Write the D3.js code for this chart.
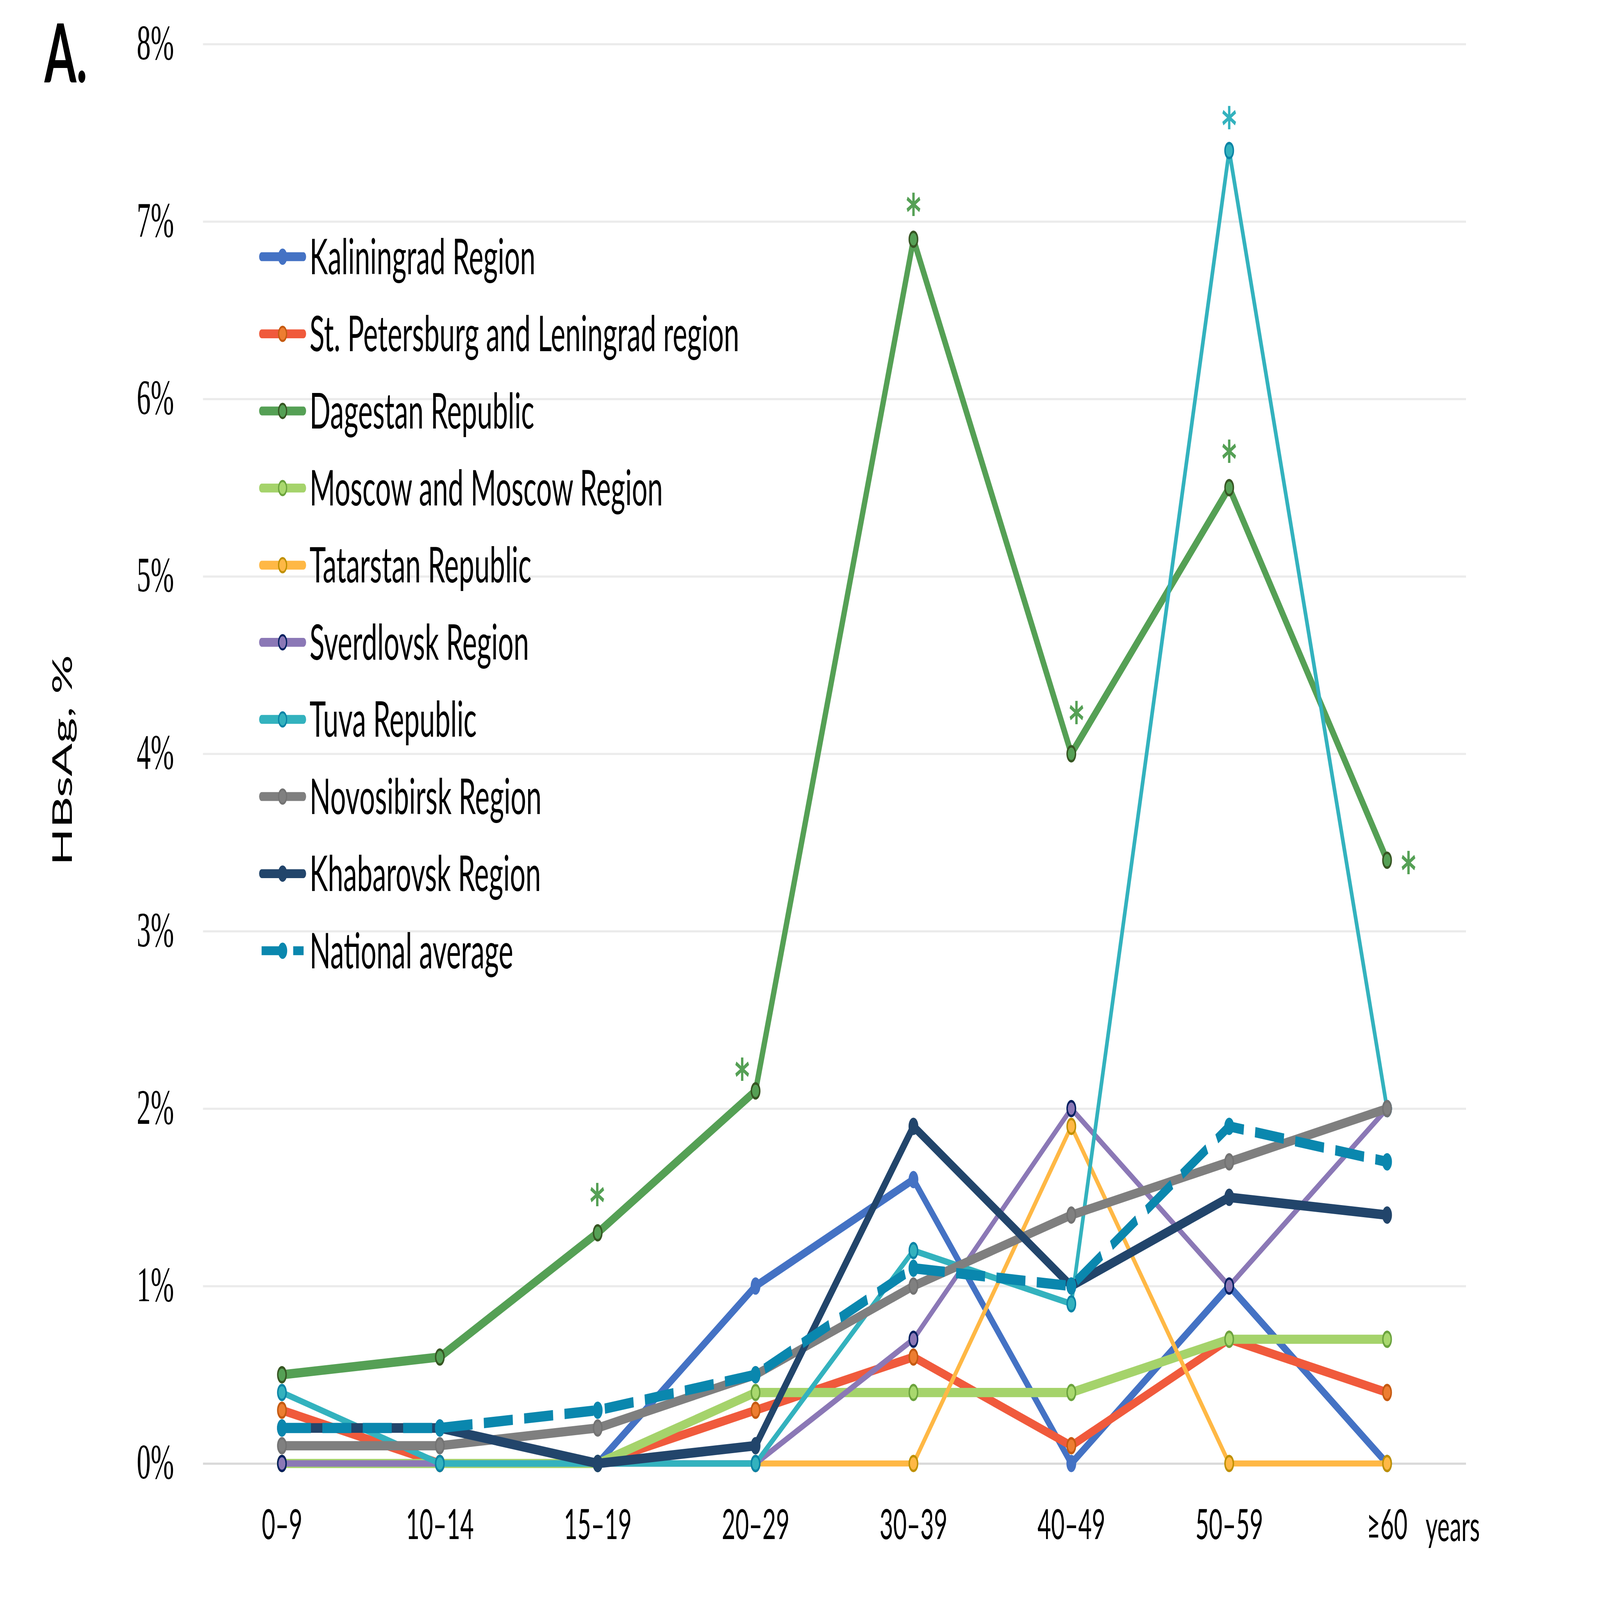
<!DOCTYPE html>
<html><head><meta charset="utf-8">
<script src="https://cdn.jsdelivr.net/npm/d3@7"></script>
<style>html,body{margin:0;padding:0;background:#fff;overflow:hidden;width:100%;height:100%} svg{display:block;width:100vw;height:100vh}</style>
</head><body>
<svg id="chart" viewBox="0 0 8000 4500" preserveAspectRatio="none"></svg>
<script>
// ---------- DATA ----------
const categories = ["0–9","10–14","15–19","20–29","30–39","40–49","50–59","≥60"];
const seriesNames = ["Kaliningrad Region","St. Petersburg and Leningrad region","Dagestan Republic","Moscow and Moscow Region","Tatarstan Republic","Sverdlovsk Region","Tuva Republic","Novosibirsk Region","Khabarovsk Region","National average"];
const kaliningrad = [0, 0, 0, 1.0, 1.6, 0, 1.0, 0];
const stPetersburg = [0.3, 0, 0, 0.3, 0.6, 0.1, 0.7, 0.4];
const dagestan = [0.5, 0.6, 1.3, 2.1, 6.9, 4.0, 5.5, 3.4];
const moscow = [0, 0, 0, 0.4, 0.4, 0.4, 0.7, 0.7];
const tatarstan = [0, 0, 0, 0, 0, 1.9, 0, 0];
const sverdlovsk = [0, 0, 0, 0, 0.7, 2.0, 1.0, 2.0];
const tuva = [0.4, 0, 0, 0, 1.2, 0.9, 7.4, 2.0];
const novosibirsk = [0.1, 0.1, 0.2, 0.5, 1.0, 1.4, 1.7, 2.0];
const khabarovsk = [0.2, 0.2, 0, 0.1, 1.9, 1.0, 1.5, 1.4];
const nationalAverage = [0.2, 0.2, 0.3, 0.5, 1.1, 1.0, 1.9, 1.7];
const yTicks = [0, 1, 2, 3, 4, 5, 6, 7, 8];
const dagestanStarCats = ["15–19","20–29","30–39","40–49","50–59","≥60"];
const tuvaStarCats = ["50–59"];
const yTitle = "HBsAg, %";
const xUnit = "years";
const panelLabel = "A.";

const seriesValues = [kaliningrad, stPetersburg, dagestan, moscow, tatarstan, sverdlovsk, tuva, novosibirsk, khabarovsk, nationalAverage];

// ---------- STYLES ----------
const styles = [
  {line:"#4472C4", fill:"#4472C4", stroke:"#4472C4", w:24},
  {line:"#F05A3C", fill:"#ED7D31", stroke:"#C55A11", w:25},
  {line:"#55A055", fill:"#55A055", stroke:"#375623", w:26},
  {line:"#A5D36B", fill:"#A9D86E", stroke:"#6BA33E", w:26},
  {line:"#FFB845", fill:"#FFB845", stroke:"#BF9000", w:17},
  {line:"#8B78B6", fill:"#8B78B6", stroke:"#002060", w:18},
  {line:"#33B2BE", fill:"#33B2BE", stroke:"#0A84A6", w:18},
  {line:"#7F7F7F", fill:"#808080", stroke:"#737373", w:26},
  {line:"#22456B", fill:"#22456B", stroke:"#22456B", w:27},
  {line:"#0A87AE", fill:"#0A87AE", stroke:"#0A87AE", w:29, dash:"145,57", legendDash:"103,55"}
];
const FONT = "Lato, 'Noto Sans', sans-serif";
const TICKFONT = "'Liberation Serif', 'DejaVu Serif', serif";

const plotLeft = 1015, plotRight = 7330, plotTop = 124, plotBottom = 4116;

const svg = d3.select("#chart");
svg.append("rect").attr("width",8000).attr("height",4500).attr("fill","#fff");

const x = d3.scalePoint().domain(categories).range([plotLeft, plotRight]).padding(0.5);
const y = d3.scaleLinear().domain([0, 8]).range([plotBottom, plotTop]);

// Y axis with gridlines
const gY = svg.append("g").attr("transform", `translate(${plotLeft},0)`)
  .call(d3.axisLeft(y).tickValues(yTicks).tickFormat(d => d + "%").tickSize(-(plotRight - plotLeft)).tickPadding(145))
  .attr("font-family", TICKFONT).attr("font-size", 140);
gY.select(".domain").remove();
gY.selectAll(".tick line").attr("stroke", d => d === 0 ? "#D9D9D9" : "#EBEBEB").attr("stroke-width", 6);
gY.selectAll(".tick text").attr("fill", "#000").attr("dy", "0.30em");

// X axis labels
const gX = svg.append("g").attr("transform", `translate(0,${plotBottom})`)
  .call(d3.axisBottom(x).tickSize(0).tickPadding(130))
  .attr("font-family", FONT).attr("font-size", 117);
gX.select(".domain").remove();
gX.selectAll(".tick text").attr("fill", "#000");

svg.append("text").attr("x", 7128).attr("y", 4334).attr("font-family", FONT).attr("font-size", 117).attr("fill","#000").text(xUnit);

// Y title
svg.append("text").attr("transform", "translate(360,2138) rotate(-90)").attr("text-anchor","middle")
  .attr("font-family", FONT).attr("font-size", 138).attr("fill","#000").text(yTitle);

// Panel label
svg.append("text").attr("x", 222).attr("y", 232).attr("font-family", FONT).attr("font-weight","bold")
  .attr("font-size", 230).attr("fill","#000").text(panelLabel);

// Series
const line = d3.line().x((d,i) => x(categories[i])).y(d => y(d));
seriesValues.forEach((vals, si) => {
  const st = styles[si];
  const g = svg.append("g");
  g.append("path").attr("d", line(vals)).attr("fill","none").attr("stroke", st.line)
    .attr("stroke-width", st.w).attr("stroke-linejoin","round").attr("stroke-linecap", st.dash ? "butt" : "round")
    .attr("stroke-dasharray", st.dash || null);
  g.selectAll("circle").data(vals).join("circle")
    .attr("cx", (d,i) => x(categories[i])).attr("cy", d => y(d)).attr("r", 21)
    .attr("fill", st.fill).attr("stroke", st.stroke).attr("stroke-width", 7);
});

// Legend
const ly = d3.scalePoint().domain(seriesNames).range([722, 2674]);
seriesNames.forEach((name, si) => {
  const st = styles[si];
  const g = svg.append("g").attr("transform", `translate(0,${ly(name)})`);
  g.append("line").attr("x1", 1308).attr("x2", 1518).attr("y1", 0).attr("y2", 0)
    .attr("stroke", st.line).attr("stroke-width", 25).attr("stroke-linecap", st.legendDash ? "butt" : "round")
    .attr("stroke-dasharray", st.legendDash || null);
  g.append("circle").attr("cx", 1413).attr("cy", 0).attr("r", 20)
    .attr("fill", st.fill).attr("stroke", st.stroke).attr("stroke-width", 6);
  g.append("text").attr("x", 1548).attr("y", 0).attr("dy", "0.355em")
    .attr("font-family", FONT).attr("font-size", 138).attr("fill","#000").text(name);
});

// Significance asterisks
function star(cat, vals, color, dx, dy) {
  const t = svg.append("text").attr("x", 0).attr("y", 0).attr("text-anchor","middle")
    .attr("font-family", "'DejaVu Sans', sans-serif").attr("font-weight", "bold")
    .attr("font-size", 100).attr("fill", color).text("*");
  let bb = t.node().getBBox();
  const fs = 100 * 76 / (bb.height * 0.46);
  t.attr("font-size", fs);
  bb = t.node().getBBox();
  const cx = x(cat) + dx, cy = y(vals[categories.indexOf(cat)]) + dy;
  t.attr("x", cx).attr("y", cy - (bb.y + bb.height * 0.27));
}
const starOffsets = {"15–19":[-2,-122],"20–29":[-67,-75],"30–39":[0,-113],"40–49":[26,-130],"50–59":[0,-117],"≥60":[107,-8]};
dagestanStarCats.forEach(c => star(c, dagestan, "#55A055", starOffsets[c][0], starOffsets[c][1]));
tuvaStarCats.forEach(c => star(c, tuva, "#33B2BE", 0, -107));
</script>
</body></html>
